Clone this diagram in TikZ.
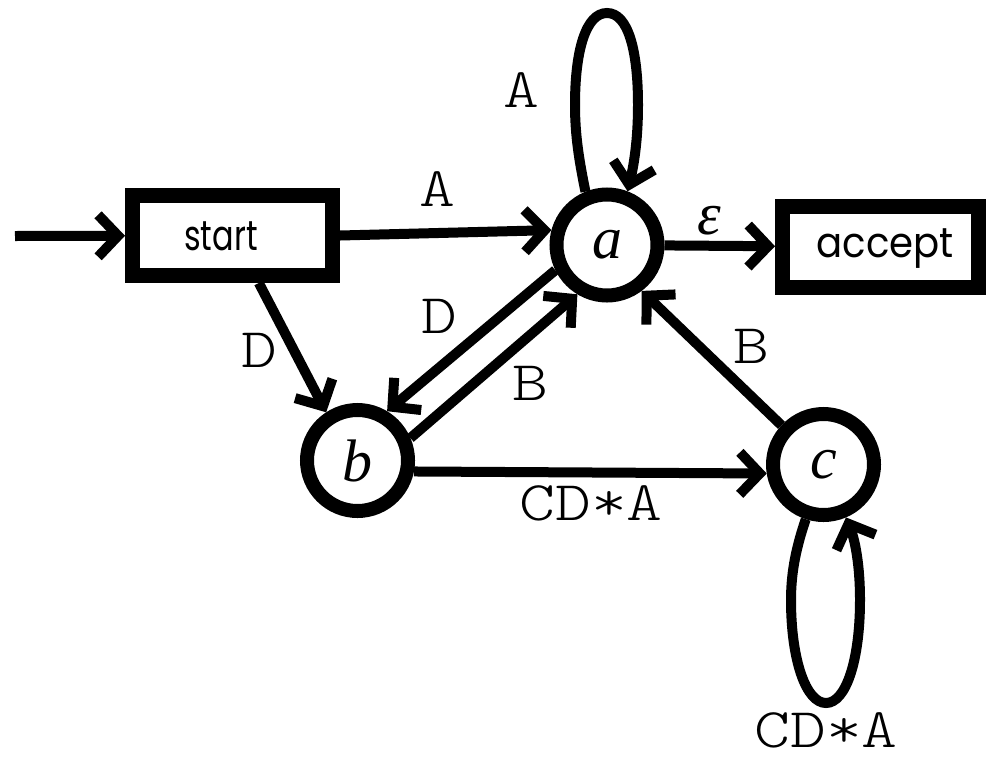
\documentclass[tikz,border=0pt]{standalone}
\usepackage{fontspec}
\usepackage{graphicx}
\usetikzlibrary{arrows.meta}
\newfontfamily\sansf{Poppins}
\newfontfamily\seriff{Liberation Serif}
\newfontfamily\monof{Latin Modern Mono Light}
\newcommand\monolab[1]{\scalebox{1.22}[1]{\fontsize{56}{60}\selectfont\monof #1}}
\newcommand\sansword[2]{\scalebox{#1}[1]{\sansf\fontsize{42}{48}\selectfont #2}}
\begin{document}
\begin{tikzpicture}[x=1pt,y=-1pt,
  state/.style={circle, draw, line width=14pt, minimum size=101pt, inner sep=0pt,
    font=\seriff\itshape\fontsize{60}{60}\selectfont},
  box/.style={rectangle, draw, line width=15pt, inner sep=0pt},
  edge/.style={line width=10pt, -{Straight Barb[length=20pt,width=42pt]}},
  lab/.style={inner sep=0pt}
]
\useasboundingbox (0,0) rectangle (990,758);
\node[box, minimum width=200pt, minimum height=80pt] (start) at (232.5,235.5) {};
\node[inner sep=0pt] (starttext) at (221,236) {\sansword{0.76}{start}};
\node[box, minimum width=196pt, minimum height=81pt] (accept) at (880.5,247) {};
\node[inner sep=0pt] (accepttext) at (885,249) {\sansword{0.92}{accept}};
\node[state] (a) at (607,245) {a};
\node[state] (b) at (357.5,460.5) {b};
\node[state] (c) at (823.5,464.5) {c};
\coordinate (in) at (15,236);

\draw[edge] (in) -- (start);
\draw[edge] (start.east) -- (a.165);
\draw[edge] (a) -- (accept);
\draw[edge] (start.-61) -- (b.123);
\draw[edge] (a.206) -- (b.59);
\draw[edge] (b.23) -- (a.239);
\draw[edge] (c.137) -- (a.307);
\draw[edge] (b.-11) -- (c.189);
\draw[edge] (a.112) .. controls (579,160) and (575,135) .. (575,105)
  .. controls (575,50) and (586,13) .. (607,13)
  .. controls (628,13) and (638,50) .. (638,105)
  .. controls (638,135) and (635,160) .. (a.69);
\draw[edge] (c.-108) .. controls (797,545) and (791,570) .. (791,600)
  .. controls (791,660) and (806,703) .. (826,703)
  .. controls (846,703) and (860,660) .. (860,600)
  .. controls (860,565) and (855,540) .. (c.-67);

\node[lab] (lA1) at (437,189) {\monolab{A}};
\node[lab] (lAloop) at (521,90) {\monolab{A}};
\node[lab] (lD1) at (259,350) {\monolab{D}};
\node[lab] (lD2) at (439,316) {\monolab{D}};
\node[lab] (lB1) at (530,383) {\monolab{B}};
\node[lab] (lB2) at (751,346) {\monolab{B}};
\node[lab] (lCDA1) at (591,503) {\monolab{CD*A}};
\node[lab] (lCDA2) at (826,730) {\monolab{CD*A}};
\node[lab] (leps) at (709,221) {\seriff\itshape\fontsize{60}{60}\selectfont ε};
\end{tikzpicture}
\end{document}
